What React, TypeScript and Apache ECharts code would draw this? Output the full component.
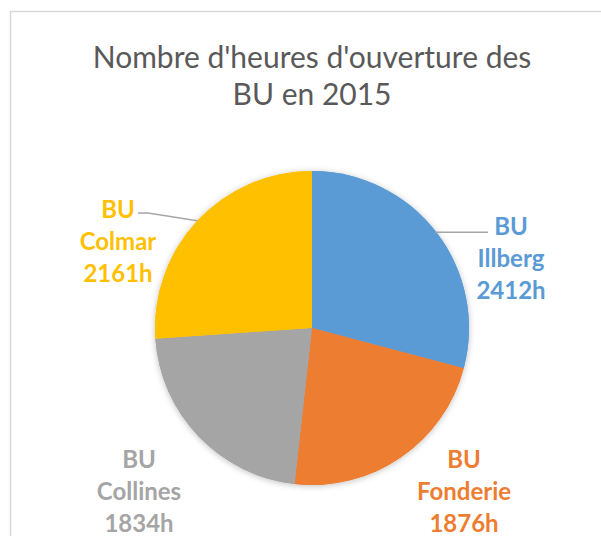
import React, { useEffect, useRef } from "react";
import * as echarts from "echarts";

const categories = ["BU Illberg", "BU Fonderie", "BU Collines", "BU Colmar"];
const hours = [2412, 1876, 1834, 2161];
const colors = ["#5B9BD5", "#ED7D31", "#A5A5A5", "#FFC000"];
const titleText = "Nombre d'heures d'ouverture des\nBU en 2015";

// label placement (style): offset of label centre from the pie centre
const CX = 312;
const CY = 328;
const R = 157;
const labelOffsets = [
  [199, -71],
  [152, 162],
  [-173, 162],
  [-194, -88],
];
// leader line end offset from the label centre (null = no line)
const leaderEnds: (number[] | null)[] = [
  [-23, -25],
  null,
  null,
  [20, -27],
];

export default function App() {
  const ref = useRef<HTMLDivElement>(null);
  useEffect(() => {
    const chart = echarts.init(ref.current!, null, { renderer: "svg" });
    const total = hours.reduce((a, b) => a + b, 0);
    const midAngles: number[] = [];
    let acc = 0;
    hours.forEach((h) => {
      const a = (h / total) * 360;
      midAngles.push(acc + a / 2);
      acc += a;
    });
    const edgePoint = (i: number) => {
      const th = (midAngles[i] * Math.PI) / 180;
      return [CX + R * Math.sin(th), CY - R * Math.cos(th)];
    };
    // horizontal leader for the first slice, drawn as a thin bar from the same geometry
    const [e0x, e0y] = edgePoint(0);
    const end0x = CX + labelOffsets[0][0] + (leaderEnds[0] as number[])[0];
    const baseData = categories.map((c, i) => ({
      name: c,
      value: hours[i],
      itemStyle: { color: colors[i] },
    }));
    chart.setOption({
      animation: false,
      title: {
        text: titleText,
        left: 307,
        top: 32,
        textAlign: "center",
        textStyle: {
          fontFamily: "Lato",
          fontSize: 30,
          fontWeight: "normal",
          color: "#595959",
          lineHeight: 37,
        },
      },
      graphic: [
        {
          type: "rect",
          shape: { x: 10.5, y: 11.5, width: 800, height: 800 },
          style: { fill: "none", stroke: "#D9D9D9", lineWidth: 1.5 },
          silent: true,
        },
        {
          type: "rect",
          z: 10,
          silent: true,
          shape: { x: e0x - 1, y: e0y - 0.75, width: end0x - e0x + 1, height: 1.5 },
          style: { fill: "#A6A6A6" },
        },
      ],
      series: [
        {
          // soft shadow beneath the pie
          type: "pie",
          silent: true,
          z: 1,
          center: [CX, CY],
          radius: R,
          startAngle: 90,
          clockwise: true,
          label: { show: false },
          labelLine: { show: false },
          itemStyle: {
            shadowBlur: 6,
            shadowColor: "rgba(0,0,0,0.25)",
            shadowOffsetY: 1,
          },
          data: baseData,
        },
        {
          type: "pie",
          z: 2,
          center: [CX, CY],
          radius: R,
          startAngle: 90,
          clockwise: true,
          label: {
            show: true,
            position: "outside",
            fontFamily: "Lato",
            fontWeight: "bold",
            fontSize: 24,
            lineHeight: 32,
            align: "center",
            formatter: (p: any) =>
              p.name.replace(" ", "\n") + "\n" + p.value + "h",
          },
          labelLine: {
            show: true,
            smooth: false,
            lineStyle: { color: "#A6A6A6", width: 1.5 },
          },
          labelLayout: (params: any) => {
            const i = params.dataIndex;
            const [dx, dy] = labelOffsets[i];
            const lx = CX + dx;
            const ly = CY + dy;
            const [ex, ey] = edgePoint(i);
            const le = leaderEnds[i];
            const res: any = {
              x: lx,
              y: ly,
              align: "center",
              verticalAlign: "middle",
            };
            if (le && i !== 0) {
              const endX = lx + le[0];
              const endY = ly + le[1];
              res.labelLinePoints = [
                [ex, ey],
                [endX + 10, endY],
                [endX, endY],
              ];
            }
            return res;
          },
          data: baseData.map((d, i) => ({
            ...d,
            label: { color: colors[i] },
            labelLine: { show: leaderEnds[i] !== null && i !== 0 },
          })),
        },
      ],
    });
    return () => chart.dispose();
  }, []);
  return (
    <div
      ref={ref}
      style={{ position: "fixed", left: 0, top: 0, width: 601, height: 536, background: "#fff" }}
    />
  );
}
